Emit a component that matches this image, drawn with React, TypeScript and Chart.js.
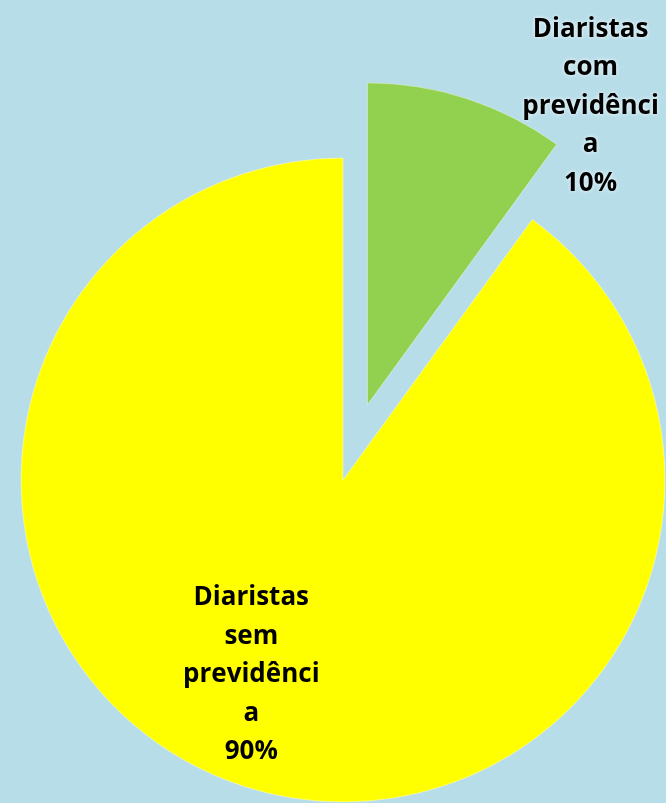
import React, { useEffect, useRef } from "react";
import { Chart, registerables } from "chart.js";

Chart.register(...registerables);

// Share of day labourers (diaristas) with and without social security
const categories = ["Diaristas com previdência", "Diaristas sem previdência"];
const shares = [10, 90];
const sliceColors = ["#92d050", "#ffff00"];

const BG = "#b7dde8";

// Wrap a label into lines of at most `max` characters, splitting long words.
function wrapChars(text: string, max: number): string[] {
  const lines: string[] = [];
  let cur = "";
  for (const word of text.split(" ")) {
    let w = word;
    const cand = cur ? cur + " " + w : w;
    if (cand.length <= max) {
      cur = cand;
      continue;
    }
    if (cur) lines.push(cur);
    cur = "";
    while (w.length > max) {
      lines.push(w.slice(0, max));
      w = w.slice(max);
    }
    cur = w;
  }
  if (cur) lines.push(cur);
  return lines;
}

// Pulls slices out from the centre along their bisector.
const explodePlugin = {
  id: "explodeSlices",
  afterDatasetUpdate(chart: any, args: any, opts: any) {
    const meta = chart.getDatasetMeta(args.index);
    const dist: number[] = opts.distance || [];
    meta.data.forEach((arc: any, i: number) => {
      const off = dist[i] || 0;
      if (!off) return;
      const mid = (arc.startAngle + arc.endAngle) / 2;
      arc.x += Math.cos(mid) * off;
      arc.y += Math.sin(mid) * off;
    });
  },
};

// Category name + percentage drawn for each slice.
const sliceLabelPlugin = {
  id: "sliceLabels",
  afterDatasetsDraw(chart: any, _args: any, opts: any) {
    const ctx = chart.ctx;
    const meta = chart.getDatasetMeta(0);
    const values: number[] = chart.data.datasets[0].data;
    const total = values.reduce((a, b) => a + b, 0);
    const place = opts.place;
    ctx.save();
    ctx.font = opts.font;
    ctx.textAlign = "center";
    ctx.textBaseline = "alphabetic";
    ctx.fillStyle = "#000000";
    meta.data.forEach((arc: any, i: number) => {
      const p = place[i];
      const ang = (arc.startAngle + arc.endAngle) / 2 + p.shift;
      const r = arc.outerRadius * p.factor;
      const cx = arc.x + Math.cos(ang) * r;
      const cy = arc.y + Math.sin(ang) * r;
      const pct = Math.round((values[i] / total) * 100) + "%";
      const lines = [...wrapChars(chart.data.labels[i], 10), pct];
      const n = lines.length;
      if (p.glow) {
        ctx.shadowColor = "rgba(255,255,255,0.9)";
        ctx.shadowBlur = 4;
      } else {
        ctx.shadowColor = "transparent";
        ctx.shadowBlur = 0;
      }
      lines.forEach((ln, k) => {
        const y = cy + (k - (n - 1) / 2) * opts.lineHeight;
        ctx.fillText(ln, cx, y);
      });
    });
    ctx.restore();
  },
};

export default function App() {
  const ref = useRef<HTMLCanvasElement | null>(null);

  useEffect(() => {
    document.body.style.margin = "0";
    const canvas = ref.current;
    if (!canvas) return;
    const chart = new Chart(canvas, {
      type: "pie",
      data: {
        labels: categories,
        datasets: [
          {
            data: shares,
            backgroundColor: sliceColors,
            borderColor: "rgba(255,255,255,0.4)",
            borderWidth: 1,
          },
        ],
      },
      options: {
        responsive: false,
        animation: false,
        radius: 322,
        layout: { padding: { left: 20, right: 0, top: 157, bottom: 0 } },
        plugins: {
          legend: { display: false },
          tooltip: { enabled: false },
          explodeSlices: { distance: [79, 0] },
          sliceLabels: {
            font: "bold 26px 'Open Sans'",
            lineHeight: 38.5,
            place: [
              { shift: 0.34, factor: 1.139, glow: true },
              { shift: 0.112, factor: 0.689, glow: false },
            ],
          },
        },
      } as any,
      plugins: [explodePlugin, sliceLabelPlugin],
    });
    return () => chart.destroy();
  }, []);

  return (
    <div
      style={{
        position: "absolute",
        left: 0,
        top: 0,
        width: 666,
        height: 803,
        background: BG,
        overflow: "hidden",
      }}
    >
      <canvas ref={ref} width={666} height={803} style={{ display: "block" }} />
    </div>
  );
}
